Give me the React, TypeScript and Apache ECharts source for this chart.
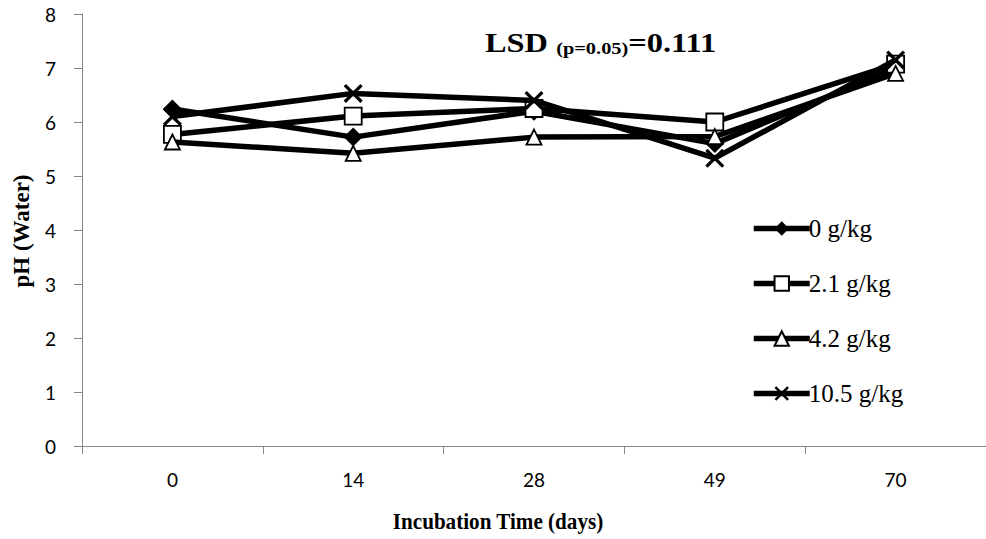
import React, { useEffect, useRef } from "react";
import * as echarts from "echarts";

const categories = ["0", "14", "28", "49", "70"];
const seriesNames = ["0 g/kg", "2.1 g/kg", "4.2 g/kg", "10.5 g/kg"];
const values0 = [6.24, 5.72, 6.2, 5.6, 7.0];
const values21 = [5.77, 6.11, 6.25, 6.0, 7.07];
const values42 = [5.63, 5.42, 5.72, 5.73, 6.9];
const values105 = [6.1, 6.53, 6.4, 5.33, 7.15];
const yTicks = [0, 1, 2, 3, 4, 5, 6, 7, 8];

const CROSS = "path://M0,1.2 L1.2,0 L10,8.8 L8.8,10 Z M8.8,0 L10,1.2 L1.2,10 L0,8.8 Z";
const SERIF = "'Liberation Serif', 'Times New Roman', serif";
const SANS = "Lato, 'Noto Sans', sans-serif";

export default function App() {
  const ref = useRef<HTMLDivElement>(null);
  useEffect(() => {
    if (!ref.current) return;
    const chart = echarts.init(ref.current, null, { renderer: "svg" });
    const mk = (name: string, data: number[], symbol: string, size: number, fill: string, z: number) => ({
      name,
      type: "line",
      data,
      symbol,
      symbolSize: size,
      z,
      lineStyle: { color: "#000", width: 5.5 },
      itemStyle: { color: fill, borderColor: "#000", borderWidth: fill === "#fff" ? 1.8 : 0 },
      emphasis: { disabled: true },
    });
    chart.setOption({
      animation: false,
      backgroundColor: "#fff",
      grid: { left: 82, top: 14, width: 912, height: 432, containLabel: false },
      xAxis: {
        type: "category",
        data: categories,
        boundaryGap: true,
        axisLine: { lineStyle: { color: "#868686", width: 1 } },
        axisTick: { show: true, length: 8, lineStyle: { color: "#868686" } },
        axisLabel: { margin: 24, fontFamily: SANS, fontSize: 19, color: "#000" },
        splitLine: { show: false },
      },
      yAxis: {
        type: "value",
        min: 0,
        max: 8,
        interval: 1,
        axisLine: { show: true, lineStyle: { color: "#868686", width: 1 } },
        axisTick: { show: true, length: 8, lineStyle: { color: "#868686" } },
        axisLabel: {
          margin: 26,
          fontFamily: SANS,
          fontSize: 19,
          color: "#000",
          formatter: (v: number) => (yTicks.includes(v) ? String(v) : ""),
        },
        splitLine: { show: false },
      },
      legend: {
        orient: "vertical",
        left: 746,
        top: 211,
        itemWidth: 56,
        itemHeight: 18,
        itemGap: 30,
        data: seriesNames,
        lineStyle: { width: 5.5, color: "#000" },
        textStyle: { fontFamily: SERIF, fontSize: 25, lineHeight: 24, color: "#000", padding: [0, 0, 0, -6] },
        selectedMode: false,
      },
      graphic: [
        {
          type: "text",
          x: 485,
          y: 28,
          scaleX: 1.2,
          style: {
            text: "{a|LSD }{b|(p=0.05)}{a|=0.111}",
            rich: {
              a: { fontFamily: SERIF, fontSize: 27, fontWeight: "bold", fill: "#000" },
              b: { fontFamily: SERIF, fontSize: 17, fontWeight: "bold", fill: "#000", padding: [12, 0, 0, 0] },
            },
          },
        },
        {
          type: "text",
          x: 498,
          y: 521,
          scaleX: 0.88,
          style: {
            text: "Incubation Time (days)",
            fontFamily: SERIF,
            fontSize: 24,
            fontWeight: "bold",
            fill: "#000",
            align: "center",
            verticalAlign: "middle",
          },
        },
        {
          type: "text",
          x: 21,
          y: 231,
          rotation: Math.PI / 2,
          style: {
            text: "pH (Water)",
            fontFamily: SERIF,
            fontSize: 23,
            fontWeight: "bold",
            fill: "#000",
            align: "center",
            verticalAlign: "middle",
          },
        },
      ],
      series: [
        mk(seriesNames[0], values0, "diamond", 19, "#000", 2),
        mk(seriesNames[1], values21, "rect", 17, "#fff", 3),
        mk(seriesNames[2], values42, "triangle", 15, "#fff", 4),
        mk(seriesNames[3], values105, CROSS, 19, "#000", 5),
      ],
    });
    return () => chart.dispose();
  }, []);
  return (
    <div
      ref={ref}
      style={{ position: "fixed", left: 0, top: 0, width: 986, height: 539, background: "#fff" }}
    />
  );
}
